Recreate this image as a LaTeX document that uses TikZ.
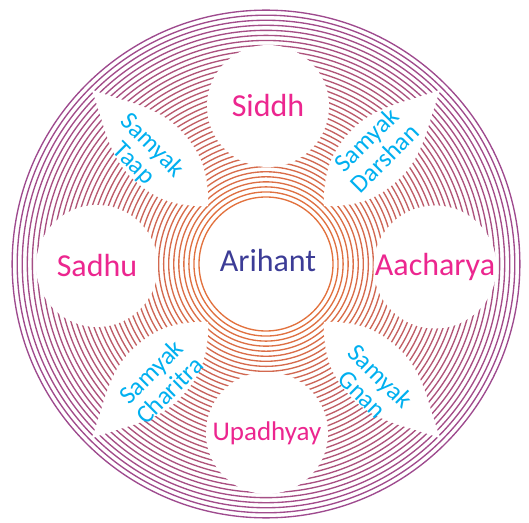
\documentclass[tikz,border=0pt]{standalone}
\usepackage{fontspec}
\setmainfont{Carlito}
\definecolor{ringin}{HTML}{E2723E}
\definecolor{ringout}{HTML}{9E4A8E}
\definecolor{pinktext}{HTML}{EC268F}
\definecolor{bluetext}{HTML}{3C3C96}
\definecolor{cyantext}{HTML}{00B0F0}

\begin{document}
\begin{tikzpicture}[x=1pt,y=1pt,
  ring/.style = {line width=1.35pt},
  sat/.style = {circle, fill=white, inner sep=0pt, minimum size=122pt, text=pinktext, font=\fontsize{32}{36}\selectfont},
  samyak/.style = {align=center, text=cyantext, font=\fontsize{25.5}{26}\selectfont}]
\useasboundingbox (0,0) rectangle (529,522);
\coordinate (C) at (266,258);
%rings, orange inside to purple outside
\foreach \i in {0,...,37}{
  \pgfmathsetmacro{\r}{67+5.05*\i}
  \pgfmathsetmacro{\pct}{100*\i/37}
  \draw[ring, color=ringout!\pct!ringin] (C) circle[radius=\r pt];
}
%white leaves on the diagonals
\foreach \a in {45,135,225,315}{
  \begin{scope}[shift={(C)}, rotate=\a]
    \fill[white] (82,0) .. controls (105,24) and (125,34) .. (158,34)
      .. controls (192,34) and (218,12) .. (247,0)
      .. controls (218,-12) and (192,-34) .. (158,-34)
      .. controls (125,-34) and (105,-24) .. (82,0) -- cycle;
  \end{scope}
}
%four circles
\node[sat] (siddh) at (268,416) {Siddh};
\node[sat] (aacharya) at (435,255) {Aacharya};
\node[sat] (upadhyay) at (267,89) [font=\fontsize{27}{30}\selectfont] {Upadhyay};
\node[sat] (sadhu) at (97,256) {Sadhu};
\node[text=bluetext, font=\fontsize{32}{36}\selectfont] (arihant) at ([xshift=2pt, yshift=3pt]C) {Arihant};
%labels in the leaves
\node[samyak, rotate=-45] (taap) at (142.8,367) {Samyak\\Taap};
\node[samyak, rotate=45] (darshan) at (375.5,373) {Samyak\\Darshan};
\node[samyak, rotate=45] (charitra) at (160,141) {Samyak\\Charitra};
\node[samyak, rotate=-45] (gnan) at (371.5,137) {Samyak\\Gnan};
\end{tikzpicture}
\end{document}
